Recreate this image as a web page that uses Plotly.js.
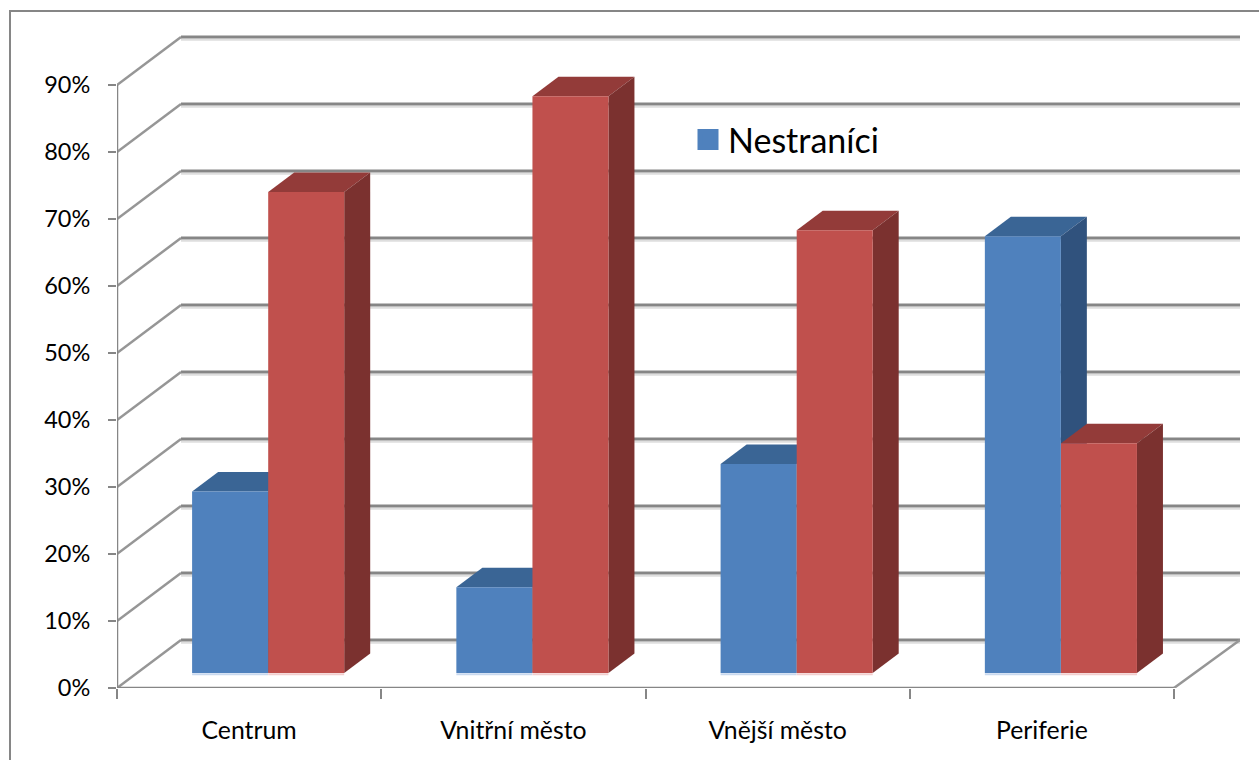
<!DOCTYPE html>
<html>
<head>
<meta charset="utf-8">
<script src="https://cdn.plot.ly/plotly-3.0.1.min.js"></script>
<style>html,body{margin:0;padding:0;background:#fff;overflow:hidden}</style>
</head>
<body>
<div id="chart" style="width:1259px;height:760px"></div>
<script>
const categories = ["Centrum", "Vnitřní město", "Vnější město", "Periferie"];
const nestranici = [27.1, 12.8, 31.2, 65.2];
const stranici = [71.8, 86.1, 66.1, 34.3];
const yTicks = [0, 10, 20, 30, 40, 50, 60, 70, 80, 90];
const yTickText = ["0%", "10%", "20%", "30%", "40%", "50%", "60%", "70%", "80%", "90%"];

const W = 1259, H = 760, L = 117, R = 19, T = 30, B = 72;
const pxX = 264.25, pxY = 6.7;
const xMax = (W - L - R) / pxX, yMax = (H - T - B) / pxY;
const wallDx = 64 / pxX, wallDy = 48 / pxY;
const barDx = 26 / pxX, barDy = 19.5 / pxY;
const barBase = 15 / pxY, barW = 76 / pxX;
const blueOff = 0.428, redOff = 0.716;
const gridCol = "#868686", shadowCol = "#dedede";

const catIdx = categories.map((_, i) => i);
const shapes = [];
const line = (x0, y0, x1, y1, color, width) => shapes.push({
  type: "line", layer: "below", xref: "x", yref: "y", x0, y0, x1, y1, line: {color, width}
});
const poly = (pts, color) => shapes.push({
  type: "path", layer: "below", xref: "x", yref: "y",
  path: "M" + pts.map(p => p[0] + "," + p[1]).join("L") + "Z",
  fillcolor: color, line: {width: 0}
});

// outer frame
shapes.push({
  type: "path", layer: "below", xref: "paper", yref: "paper",
  path: `M${(10 - L) / (W - L - R)},${-B / (H - T - B) - 0.02}` +
        `L${(10 - L) / (W - L - R)},${(H - B - 11) / (H - T - B) - 0}` +
        `L${(W - L + 5) / (W - L - R)},${(H - B - 11) / (H - T - B)}`,
  line: {color: gridCol, width: 2}
});

// walls and floor
yTicks.forEach(v => {
  line(wallDx, v + wallDy - 0.42, xMax, v + wallDy - 0.42, shadowCol, 2);
  line(wallDx, v + wallDy, xMax, v + wallDy, gridCol, 3);
  line(0, v, wallDx, v + wallDy, "#969696", 2.5);
});
line(0, -0.42, 4, -0.42, shadowCol, 3);
line(0, 0, 4, 0, gridCol, 2.5);
line(0, 0, 0, 90, gridCol, 2.5);
line(4, 0, xMax, wallDy, "#969696", 2.5);

// depth faces of the bars
function faces(values, off, topCol, sideCol) {
  values.forEach((v, i) => {
    const xl = i + off - barW / 2, xr = i + off + barW / 2, top = barBase + v;
    poly([[xl, top], [xr, top], [xr + barDx, top + barDy], [xl + barDx, top + barDy]], topCol);
    poly([[xr, barBase], [xr + barDx, barBase + barDy], [xr + barDx, top + barDy], [xr, top]], sideCol);
  });
}
faces(nestranici, blueOff, "#3A6595", "#30527D");
faces(stranici, redOff, "#933B39", "#7B312F");

// pale edge under each bar
catIdx.forEach(i => {
  line(i + blueOff - barW / 2, barBase - 0.2, i + blueOff + barW / 2, barBase - 0.2, "#c9d9ef", 2);
  line(i + redOff - barW / 2, barBase - 0.2, i + redOff + barW / 2, barBase - 0.2, "#f2cfcf", 2);
});

const traces = [
  {type: "bar", x: catIdx.map(i => i + blueOff), y: nestranici, base: barBase, width: barW,
   marker: {color: "#4F81BD", line: {width: 0}}, showlegend: false, name: "Nestraníci"},
  {type: "bar", x: catIdx.map(i => i + redOff), y: stranici, base: barBase, width: barW,
   marker: {color: "#C0504D", line: {width: 0}}, showlegend: false, name: "Straníci"},
  {type: "scatter", mode: "markers", x: [null], y: [null], name: "Nestraníci",
   marker: {symbol: "square", size: 16, color: "#4F81BD", line: {color: "#4F81BD", width: 5}},
   hoverinfo: "skip"}
];

const layout = {
  width: W, height: H,
  margin: {l: L, r: R, t: T, b: B, pad: 0},
  paper_bgcolor: "#fff", plot_bgcolor: "rgba(0,0,0,0)",
  font: {family: "Lato, sans-serif", color: "#000"},
  barmode: "overlay",
  showlegend: true,
  legend: {
    x: (688 - L) / (W - L - R), y: (H - B - 140) / (H - T - B),
    xanchor: "left", yanchor: "middle",
    bgcolor: "rgba(0,0,0,0)", borderwidth: 0,
    font: {size: 34, family: "Lato, sans-serif", color: "#000"},
    itemsizing: "trace", itemwidth: 30
  },
  xaxis: {
    range: [0, xMax], showgrid: false, zeroline: false, showline: false,
    tickmode: "array", tickvals: catIdx.map(i => i + 0.5), ticktext: categories,
    ticks: "outside", ticklen: 20, tickcolor: "rgba(0,0,0,0)", tickwidth: 1,
    tickfont: {size: 24.8, family: "Lato, sans-serif", color: "#000"},
    minor: {tickmode: "array", tickvals: [0, 1, 2, 3, 4], ticks: "outside", ticklen: 10,
            tickcolor: gridCol, tickwidth: 2, showgrid: false}
  },
  yaxis: {
    range: [0, yMax], showgrid: false, zeroline: false, showline: false,
    tickmode: "array", tickvals: yTicks, ticktext: yTickText,
    ticks: "outside", ticklen: 8, tickcolor: gridCol, tickwidth: 2,
    ticklabelstandoff: 13,
    tickfont: {size: 23.5, family: "Lato, sans-serif", color: "#000"}
  },
  shapes
};
Plotly.newPlot("chart", traces, layout, {displayModeBar: false, responsive: false});
</script>
</body>
</html>
